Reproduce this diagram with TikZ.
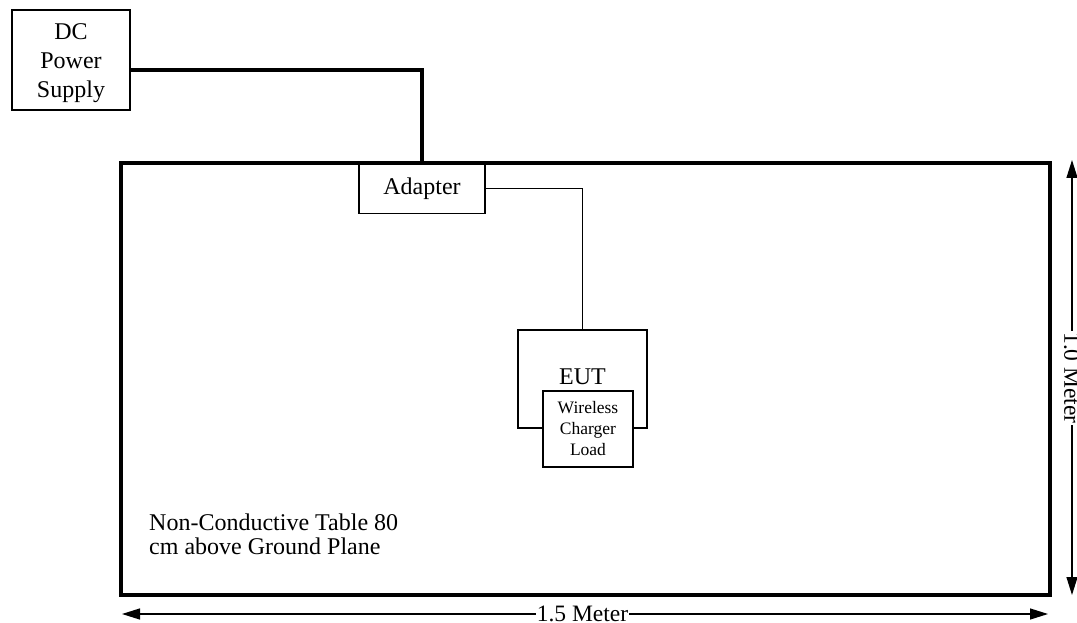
\documentclass[tikz,border=0pt]{standalone}
\usepackage{fontspec}
\setmainfont{Liberation Serif}
\usetikzlibrary{arrows.meta}
\begin{document}
\begin{tikzpicture}[x=1pt,y=-1pt,
  box/.style={draw, line width=1.7pt, inner sep=0pt, align=center},
  bigfont/.style={font=\fontsize{24}{29}\selectfont},
  smallfont/.style={font=\fontsize{17.5}{21}\selectfont},
  dim/.style={line width=1.3pt, {Triangle[length=18pt,width=11pt]}-{Triangle[length=18pt,width=11pt]}},
  dimlabel/.style={fill=white, inner sep=1pt, font=\fontsize{23.5}{23.5}\selectfont}]
\useasboundingbox (0,0) rectangle (1077,623);
% table
\node[draw, line width=3.2pt, minimum width=929pt, minimum height=432pt, inner sep=0pt] (table) at (585.5,379) {};
% DC power supply
\node[box, minimum width=118pt, minimum height=100pt] (dc) at (71,60) {};
\node[bigfont, align=center, inner sep=0pt] (dclabel) at (71,63) {DC\\Power\\Supply};
% adapter
\node[box, bigfont, fill=white, minimum width=126pt, minimum height=49pt] (adapter) at (422,189) {Adapter};
% EUT
\node[box, line width=2pt, minimum width=129pt, minimum height=98pt] (eut) at (582.5,379) {};
\node[bigfont, inner sep=0pt] (eutlabel) at (582.5,377) {EUT};
\node[box, line width=1.9pt, fill=white, smallfont, minimum width=90pt, minimum height=76pt] (load) at (588,429) {Wireless\\Charger\\Load};
% connectors
\draw[line width=3.2pt] ([yshift=-10pt]dc.east) -| (adapter.north);
\draw[line width=1pt] (adapter.east) -| (eut.north);
% table label
\node[align=left, anchor=base west, inner sep=0pt, font=\fontsize{24}{23.5}\selectfont] (tlabel) at (149,554) {Non-Conductive Table 80\\cm above Ground Plane};
% dimensions
\coordinate (h1) at (122,614);
\coordinate (h2) at (1048,614);
\coordinate (v1) at (1072,160);
\coordinate (v2) at (1072,595);
\draw[dim] (h1) -- (h2);
\draw[dim] (v1) -- (v2);
\node[dimlabel] (hl) at (582.5,614) {1.5 Meter};
\node[dimlabel, rotate=-90] (vl) at (1072,378) {1.0 Meter};
\end{tikzpicture}
\end{document}
